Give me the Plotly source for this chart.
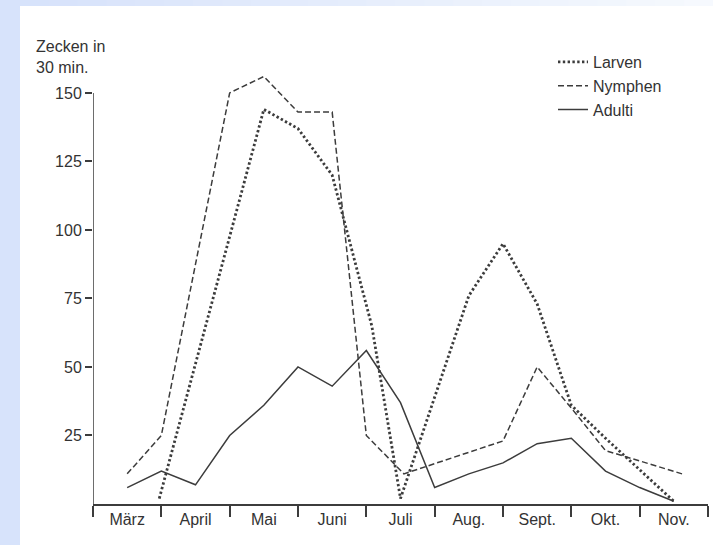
import plotly.graph_objects as go

# ---- data (x in month units: 0 = start of März, 1 = start of April, ...) ----
months = ["März", "April", "Mai", "Juni", "Juli", "Aug.", "Sept.", "Okt.", "Nov."]
month_edges = list(range(10))
month_centers = [i + 0.5 for i in range(9)]
y_ticks = [25, 50, 75, 100, 125, 150]

larven_t = [0.97, 2.5, 3.0, 3.5, 4.08, 4.5, 5.5, 6.0, 6.5, 7.0, 7.5, 8.5]
larven_v = [2, 144, 137, 120, 65, 2, 76, 95, 73, 36, 24, 1]

nymphen_t = [0.5, 1.0, 2.0, 2.5, 3.0, 3.5, 4.0, 4.55, 6.0, 6.5, 7.0, 7.5, 8.62]
nymphen_v = [11, 25, 150, 156, 143, 143, 25, 11, 23, 50, 35, 19.5, 11]

adulti_t = [0.5, 1.0, 1.5, 2.0, 2.5, 3.0, 3.5, 4.0, 4.5, 5.0, 5.5, 6.0, 6.5, 7.0, 7.5, 8.0, 8.5]
adulti_v = [6, 12, 7, 25, 36, 50, 43, 56, 37, 6, 11, 15, 22, 24, 12, 6, 1]

Y_MAX = 158  # headroom so the Nymphen peak is not clipped

# ---- layout geometry ----
W, H = 713, 545
ML, MR, MB = 93, 5, 41
PX_PER_UNIT = 2.74
PH = round(Y_MAX * PX_PER_UNIT)
MT = H - MB - PH
PW = W - ML - MR


def px_x(p):
    return (p - ML) / PW


def px_y(p):
    return (H - MB - p) / PH


INK = "#3c3c3c"
TXT = "#333333"
FONT = "Liberation Sans, Arial, sans-serif"

fig = go.Figure()
fig.add_trace(go.Scatter(x=larven_t, y=larven_v, mode="lines", name="Larven",
                         line=dict(color=INK, width=2.8, dash="2.4px,2.4px")))
fig.add_trace(go.Scatter(x=nymphen_t, y=nymphen_v, mode="lines", name="Nymphen",
                         line=dict(color=INK, width=1.5, dash="6px,3px")))
fig.add_trace(go.Scatter(x=adulti_t, y=adulti_v, mode="lines", name="Adulti",
                         line=dict(color=INK, width=1.5)))

# y axis line ending at the 150 tick
shapes = [
    dict(type="line", xref="x", yref="y", x0=0, x1=0, y0=0, y1=150,
         line=dict(color=INK, width=1.5)),
    # light blue frame on the left
    dict(type="rect", xref="paper", yref="paper", layer="below",
         x0=px_x(0), x1=px_x(20), y0=px_y(H), y1=px_y(0),
         fillcolor="#d7e3fb", line=dict(width=0)),
]
n_seg = 24
for i in range(n_seg):
    f = i / (n_seg - 1)
    r = int(215 + (246 - 215) * f)
    g = int(227 + (249 - 227) * f)
    b = int(251 + (254 - 251) * f)
    xa = 20 + (W - 20) * i / n_seg
    xb = 20 + (W - 20) * (i + 1) / n_seg + 1
    shapes.append(dict(type="rect", xref="paper", yref="paper", layer="below",
                       x0=px_x(xa), x1=px_x(xb), y0=px_y(6), y1=px_y(0),
                       fillcolor=f"rgb({r},{g},{b})", line=dict(width=0)))

fig.update_layout(
    width=W, height=H,
    margin=dict(l=ML, r=MR, t=MT, b=MB, pad=0),
    paper_bgcolor="white", plot_bgcolor="white",
    font=dict(family=FONT, size=16, color=TXT),
    showlegend=True,
    legend=dict(x=px_x(553), y=px_y(45), xanchor="left", yanchor="top",
                bgcolor="rgba(0,0,0,0)", font=dict(size=16, color=TXT),
                tracegroupgap=0, itemwidth=30),
    shapes=shapes,
    xaxis=dict(range=[0, 9], showgrid=False, zeroline=False,
               showline=True, linecolor=INK, linewidth=1.5,
               tickmode="array", tickvals=month_centers, ticktext=months,
               ticks="", tickfont=dict(size=16, color=TXT),
               minor=dict(tickmode="array", tickvals=month_edges, ticks="outside",
                          ticklen=11, tickwidth=1.5, tickcolor=INK, showgrid=False)),
    yaxis=dict(range=[0, Y_MAX], showgrid=False, zeroline=False,
               showline=False,
               tickmode="array", tickvals=y_ticks,
               ticks="outside", ticklen=7, tickwidth=1.5, tickcolor=INK,
               tickfont=dict(size=16, color=TXT)),
    annotations=[dict(text="Zecken in<br>30 min.", xref="paper", yref="paper",
                      x=px_x(34), y=px_y(36), xanchor="left", yanchor="top",
                      align="left", showarrow=False,
                      font=dict(size=16, color=TXT))],
)

fig.write_html("out.html", config={"displayModeBar": False},
               post_script="document.body.style.margin='0';")
